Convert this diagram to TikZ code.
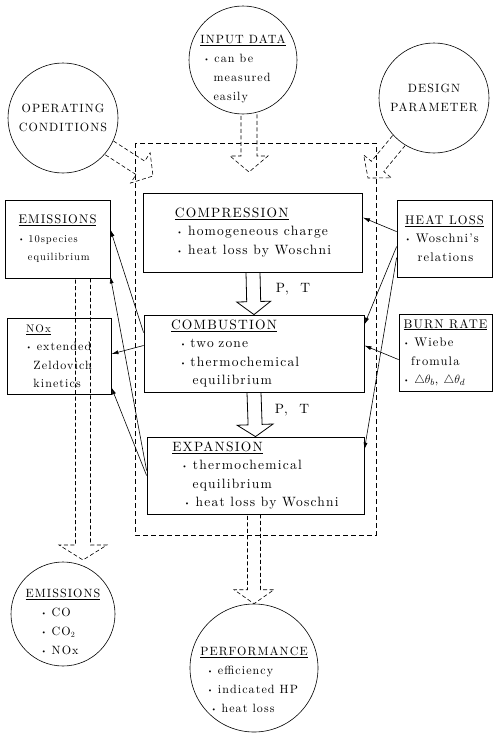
\documentclass[tikz,border=0pt]{standalone}
\usepackage{fontspec}
\setmainfont{lmroman10-regular.otf}[LetterSpace=9]
\usetikzlibrary{calc,arrows.meta}

\newcommand{\itm}{\raisebox{.2ex}{\scriptsize\textbullet}\ }
%% hollow block arrow: options, start, tip, half shaft, half head, head length
\newcommand{\hollowArrow}[6]{%
  \coordinate (hb) at ($(#3)!#6!(#2)$);
  \draw[#1] ($(#2)!#4!90:(#3)$) -- ($(hb)!#4!-90:(#2)$) -- ($(hb)!#5!-90:(#2)$)
    -- (#3) -- ($(hb)!#5!90:(#2)$) -- ($(hb)!#4!90:(#2)$) -- ($(#2)!#4!-90:(#3)$);
}

\begin{document}
\begin{tikzpicture}
[x=1pt,y=-1pt,
  processBox/.style={draw,thick,minimum height=77pt,inner sep=2pt,align=left,%
    font=\fontsize{13.5}{18.5}\selectfont},
  sideBox/.style={draw,thick,minimum height=77pt,inner sep=1pt,align=left,%
    font=\fontsize{12.5}{18.5}\selectfont},
  infoCircle/.style={shape=circle,draw,semithick,inner sep=0pt},
  circleText/.style={align=left,font=\fontsize{12}{19}\selectfont},
  flowLine/.style={-{Latex[length=7pt,width=4pt]},semithick},
  frameDash/.style={thick,dash pattern=on 5pt off 3pt},
  blockSolid/.style={thick},
  blockDashed/.style={semithick,dash pattern=on 4pt off 2.5pt}]
\useasboundingbox (0,0) rectangle (494,736);

%% outer circles
\node (indata) at (243,60) [infoCircle,minimum size=108pt] {};
\node (indataTxt) at ([yshift=-9pt]indata.center) [circleText]
  {\underline{INPUT DATA}\\ \hspace*{.3em}\itm can be\\ \hspace*{1.1em}measured\\ \hspace*{1.1em}easily};
\node (opcond) at (63,118) [infoCircle,minimum size=110pt,circleText,align=center] {OPERATING\\ CONDITIONS};
\node (design) at (434,98) [infoCircle,minimum size=110pt,circleText,align=center] {DESIGN\\ PARAMETER};
\node (emcirc) at (63,614) [infoCircle,minimum size=104pt] {};
\node (emcircTxt) at ([yshift=-8pt]emcirc.center) [circleText]
  {\underline{EMISSIONS}\\ \hspace*{1.3em}\itm CO\\ \hspace*{1.3em}\itm CO\textsubscript{2}\\ \hspace*{1.3em}\itm NOx};
\node (perf) at (254,668) [infoCircle,minimum size=128pt] {};
\node (perfTxt) at ([yshift=-12pt]perf.center) [circleText]
  {\underline{PERFORMANCE}\\ \hspace*{.6em}\itm efficiency\\ \hspace*{.6em}\itm indicated HP\\ \hspace*{.9em}\itm heat loss};

%% engine cycle
\draw[frameDash] (135,143) rectangle (376,535);
\node (compr) at (253,232.5) [processBox,minimum width=219pt,minimum height=79pt]
  {\underline{COMPRESSION}\\ \hspace*{2pt}\itm homogeneous charge\\ \hspace*{2pt}\itm heat loss by Woschni};
\node (combu) at (254,353.5) [processBox,minimum width=220pt,text width=166pt]
  {\underline{COMBUSTION}\\ \hspace*{.7em}\itm two zone\\ \hspace*{.7em}\itm thermochemical\\ \hspace*{1.6em}equilibrium};
\node (expan) at (255.5,475.5) [processBox,minimum width=217pt]
  {\underline{EXPANSION}\\ \hspace*{.7em}\itm thermochemical\\ \hspace*{1.5em}equilibrium\\ \hspace*{.9em}\itm heat loss by Woschni};
\node (ptA) at (293,289) [font=\fontsize{13.5}{15}\selectfont] {P,\ \ T};
\node (ptB) at (292,410) [font=\fontsize{13.5}{15}\selectfont] {P,\ \ T};

%% sub models
\node (emis) at (57.5,239) [sideBox,minimum width=105pt,minimum height=78pt]
  {\underline{EMISSIONS}\\ {\fontsize{10.5}{17}\selectfont\itm 10species}\\
   {\fontsize{10.5}{17}\selectfont\hspace*{.9em}equilibrium}};
\node (nox) at (59,356) [sideBox,minimum width=104pt,minimum height=76pt,font=\fontsize{12}{18.5}\selectfont]
  {{\fontsize{11}{15}\selectfont\underline{NOx}}\\ \itm extended\\ \hspace*{.6em}Zeldovich\\ \hspace*{.6em}kinetics};
\node (heat) at (444.5,238.5) [sideBox,minimum width=95pt]
  {\underline{HEAT LOSS}\\ \itm Woschni's\\ \hspace*{1em}relations};
\node (burn) at (445.5,352.5) [sideBox,minimum width=93pt]
  {\underline{BURN RATE}\\ \itm Wiebe\\ \hspace*{.6em}fromula\\ \itm $\triangle\theta_b$, $\triangle\theta_d$};

%% block arrows
\hollowArrow{blockSolid}{compr.south}{combu.north}{7pt}{17pt}{13pt}
\hollowArrow{blockSolid}{combu.south}{expan.north}{7pt}{18pt}{12pt}
\coordinate (inTip) at (249,172);
\coordinate (inStart) at (inTip |- indata.south);
\hollowArrow{blockDashed}{inStart}{inTip}{8pt}{19pt}{16pt}
\coordinate (opTip) at (153,176);
\coordinate (opStart) at ($(opcond)!55pt!(opTip)$);
\hollowArrow{blockDashed}{opStart}{opTip}{8pt}{18pt}{15pt}
\coordinate (dsTip) at (368,178);
\coordinate (dsStart) at ($(design)!55pt!(dsTip)$);
\hollowArrow{blockDashed}{dsStart}{dsTip}{8pt}{18pt}{15pt}
\coordinate (emTip) at (83,560);
\coordinate (emStart) at (emTip |- emis.south);
\hollowArrow{blockDashed}{emStart}{emTip}{7.5pt}{24pt}{15pt}
\coordinate (pfStart) at (perf.north |- expan.south);
\hollowArrow{blockDashed}{pfStart}{perf.north}{6.5pt}{20pt}{14pt}

%% data links
\draw[flowLine] ([yshift=-18pt]combu.north west) -- ([yshift=-30pt]emis.north east);
\draw[flowLine] ([yshift=5pt]expan.west) -- ([yshift=2pt]emis.south east);
\draw[flowLine] ([yshift=8pt]combu.west) -- ([yshift=2pt]nox.east);
\draw[flowLine] (expan.west) -- ([yshift=7pt]nox.south east);
\draw[flowLine] ([yshift=-32pt]heat.north west) -- ([yshift=-25pt]compr.north east);
\draw[flowLine] ([yshift=-47pt]heat.north west) -- ([yshift=-10pt]combu.north east);
\draw[flowLine] ([yshift=-58pt]heat.north west) -- ([yshift=-13pt]expan.north east);
\draw[flowLine] ([yshift=-46pt]burn.north west) -- ([yshift=8pt]combu.east);
\end{tikzpicture}
\end{document}
